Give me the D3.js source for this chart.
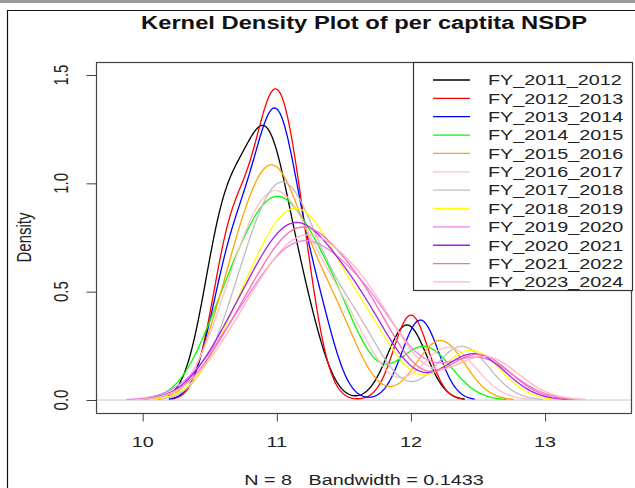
<!DOCTYPE html>
<html>
<head>
  <meta charset="utf-8">
  <style>
  body {
    margin: 0;
    background: #fff;
  }
  text {
    font-family: "Liberation Sans", Arial, sans-serif;
    fill: #222;
    white-space: pre;
  }
  </style>
</head>
<body>
  <div id="chart"></div>

  <script src="https://cdn.jsdelivr.net/npm/d3@7/dist/d3.min.js"></script>
  <script>

  'use strict';

  // log per capita NSDP, one value per state (N = 8) for each year
  var years = ['FY_2011_2012', 'FY_2012_2013', 'FY_2013_2014', 'FY_2014_2015',
               'FY_2015_2016', 'FY_2016_2017', 'FY_2017_2018', 'FY_2018_2019',
               'FY_2019_2020', 'FY_2020_2021', 'FY_2021_2022', 'FY_2023_2024'];

  var colors = ['#000000', '#ff0000', '#0000ff', '#00ff00', '#ffa500', '#ffc0cb',
                '#bebebe', '#ffff00', '#ee82ee', '#a020f0', '#ff69b4', '#ffb6c1'];

  var fy2011 = [10.55, 10.62, 10.76, 10.88, 10.95, 11.00, 11.20, 11.97];
  var fy2012 = [10.60, 10.71, 10.86, 10.95, 11.01, 11.08, 11.20, 12.00];
  var fy2013 = [10.60, 10.74, 10.88, 10.97, 11.03, 11.10, 11.30, 12.07];
  var fy2014 = [10.58, 10.78, 10.92, 11.02, 11.12, 11.30, 11.48, 12.10];
  var fy2015 = [10.63, 10.78, 10.92, 10.99, 11.06, 11.24, 11.46, 12.22];
  var fy2016 = [10.65, 10.80, 10.95, 11.03, 11.12, 11.32, 11.55, 12.28];
  var fy2017 = [10.70, 10.88, 11.00, 11.08, 11.16, 11.36, 11.62, 12.38];
  var fy2018 = [10.70, 10.92, 11.06, 11.16, 11.28, 11.45, 11.72, 12.45];
  var fy2019 = [10.66, 10.95, 11.10, 11.22, 11.38, 11.60, 11.80, 12.50];
  var fy2020 = [10.66, 10.92, 11.06, 11.16, 11.30, 11.50, 11.72, 12.47];
  var fy2021 = [10.68, 10.95, 11.10, 11.20, 11.35, 11.55, 11.75, 12.50];
  var fy2023 = [10.70, 10.98, 11.12, 11.24, 11.40, 11.60, 11.80, 12.55];

  var samples = [fy2011, fy2012, fy2013, fy2014, fy2015, fy2016,
                 fy2017, fy2018, fy2019, fy2020, fy2021, fy2023];

  var xTicks = [10, 11, 12, 13];
  var yTicks = [0, 0.5, 1.0, 1.5];
  var xLim = [9.8, 13.5];
  var yLim = [0, 1.5];

  var width = 635,
      height = 488,
      SX = 1.32;   // the picture is stretched sideways

  var box = { left: 96, right: 632, top: 62, bottom: 413 };

  function ext(lim) {
    var d = (lim[1] - lim[0]) * 0.04;
    return [lim[0] - d, lim[1] + d];
  }

  var x = d3.scaleLinear().domain(ext(xLim)).range([box.left, box.right]);
  var y = d3.scaleLinear().domain(ext(yLim)).range([box.bottom, box.top]);

  // R's bw.nrd0 and a gaussian kernel on 512 points, cut = 3
  function bwNrd0(v) {
    var s = v.slice().sort(d3.ascending);
    var hi = d3.deviation(s);
    var iqr = d3.quantileSorted(s, 0.75) - d3.quantileSorted(s, 0.25);
    var lo = Math.min(hi, iqr / 1.34);
    return 0.9 * lo * Math.pow(s.length, -0.2);
  }

  function density(v) {
    var bw = bwNrd0(v),
        a = d3.min(v) - 3 * bw,
        b = d3.max(v) + 3 * bw,
        n = 512,
        k = 1 / (v.length * bw * Math.sqrt(2 * Math.PI));
    return d3.range(n).map(function(i) {
      var px = a + (b - a) * i / (n - 1);
      var s = d3.sum(v, function(xi) {
        var z = (px - xi) / bw;
        return Math.exp(-0.5 * z * z);
      });
      return [px, s * k];
    });
  }

  var svg = d3.select('#chart').append('svg')
              .attr('width', width).attr('height', height);

  // frame of the screenshot
  svg.append('line').attr('x1', 0).attr('x2', width).attr('y1', 1.5).attr('y2', 1.5)
     .attr('stroke', '#999').attr('stroke-width', 3);
  svg.append('path').attr('d', 'M7.5,' + height + 'V10.5H' + width)
     .attr('fill', 'none').attr('stroke', '#111').attr('stroke-width', 1.2);

  function stext(px, py, str, size, anchor, rot) {
    return svg.append('text')
      .attr('transform', 'translate(' + px + ',' + py + ') scale(' + SX + ',1)' + (rot ? ' rotate(-90)' : ''))
      .attr('text-anchor', anchor)
      .style('font-size', size + 'px')
      .text(str);
  }

  // zero line
  svg.append('line')
     .attr('x1', box.left).attr('x2', box.right)
     .attr('y1', y(0)).attr('y2', y(0))
     .attr('stroke', '#c8c8c8').attr('stroke-width', 1);

  // curves
  var line = d3.line().x(function(d) { return x(d[0]); }).y(function(d) { return y(d[1]); });

  svg.append('g').selectAll('path')
     .data(samples)
     .enter().append('path')
       .attr('d', function(d) { return line(density(d)); })
       .attr('fill', 'none')
       .attr('stroke', function(d, i) { return colors[i]; })
       .attr('stroke-width', 1.3)
       .attr('stroke-linejoin', 'round');

  // plot box
  svg.append('rect')
     .attr('x', box.left + 0.5).attr('y', box.top + 0.5)
     .attr('width', box.right - box.left - 1).attr('height', box.bottom - box.top)
     .attr('fill', 'none').attr('stroke', '#444').attr('stroke-width', 1.2);

  // axes
  var xAxis = d3.axisBottom(x).tickValues(xTicks).tickSize(8).tickFormat('');
  svg.append('g').attr('transform', 'translate(0,' + (box.bottom + 0.5) + ')').call(xAxis)
     .call(function(g) { g.select('.domain').remove(); g.selectAll('line').attr('stroke', '#444'); });

  var yAxis = d3.axisLeft(y).tickValues(yTicks).tickSize(10).tickFormat('');
  svg.append('g').attr('transform', 'translate(' + (box.left + 0.5) + ',0)').call(yAxis)
     .call(function(g) { g.select('.domain').remove(); g.selectAll('line').attr('stroke', '#444'); });

  xTicks.forEach(function(t) { stext(x(t), 447, String(t), 15, 'middle'); });
  yTicks.forEach(function(t) { stext(68, y(t), t.toFixed(1), 15, 'middle', true); });

  stext(31, (box.top + box.bottom) / 2, 'Density', 15, 'middle', true);
  stext((box.left + box.right) / 2, 29, 'Kernel Density Plot of per captita NSDP', 18, 'middle')
    .style('font-weight', 'bold').style('fill', '#111');
  stext((box.left + box.right) / 2, 485, 'N = 8   Bandwidth = 0.1433', 15, 'middle');

  // legend
  var lg = { left: 413, top: 62, right: 632, bottom: 290, row0: 80, step: 18.36 };
  svg.append('rect')
     .attr('x', lg.left + 0.5).attr('y', lg.top + 0.5)
     .attr('width', lg.right - lg.left).attr('height', lg.bottom - lg.top)
     .attr('fill', '#fff').attr('stroke', '#333').attr('stroke-width', 1.2);

  years.forEach(function(name, i) {
    var ry = lg.row0 + i * lg.step;
    svg.append('line')
       .attr('x1', 433).attr('x2', 470).attr('y1', ry).attr('y2', ry)
       .attr('stroke', colors[i]).attr('stroke-width', 1.3);
    stext(488, ry + 5.3, name, 15, 'start');
  });

  </script>
</body>
</html>
